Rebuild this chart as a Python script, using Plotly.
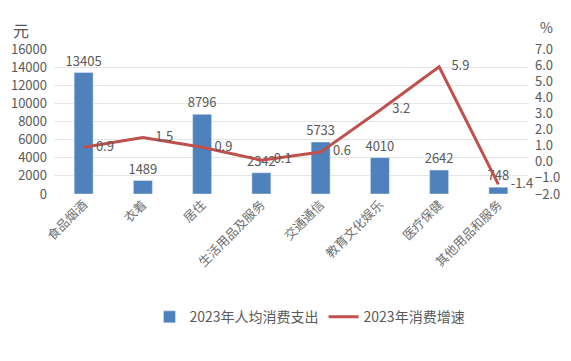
import plotly.graph_objects as go

categories = ["食品烟酒", "衣着", "居住", "生活用品及服务", "交通通信", "教育文化娱乐", "医疗保健", "其他用品和服务"]
spending = [13405, 1489, 8796, 2342, 5733, 4010, 2642, 748]
growth = [0.9, 1.5, 0.9, 0.1, 0.6, 3.2, 5.9, -1.4]
y_ticks = [0, 2000, 4000, 6000, 8000, 10000, 12000, 14000, 16000]
y2_ticks = [-2, -1, 0, 1, 2, 3, 4, 5, 6, 7]

FONT = "Noto Sans CJK SC"
GRAY = "#595959"

fig = go.Figure()
fig.add_trace(go.Bar(
    x=categories, y=spending, name="2023年人均消费支出",
    marker_color="#4F81BD",
    text=[str(v) for v in spending], textposition="outside",
    textfont=dict(size=13, color=GRAY, family=FONT),
    constraintext="none",
    cliponaxis=False,
))
fig.add_trace(go.Scatter(
    x=categories, y=growth, name="2023年消费增速", yaxis="y2",
    mode="lines+markers+text", line=dict(color="#C0504D", width=3),
    marker=dict(size=18, color="rgba(0,0,0,0)", line=dict(width=0)),
    text=[f"{v:.1f}" for v in growth], textposition="middle right",
    textfont=dict(size=13, color=GRAY, family=FONT),
    cliponaxis=False,
))

# page body has an 8px default margin, so the figure is sized/positioned to compensate
fig.update_layout(
    width=563, height=353,
    margin=dict(l=46, r=43, t=41, b=167, autoexpand=False),
    paper_bgcolor="white", plot_bgcolor="white",
    font=dict(family=FONT, color=GRAY, size=13),
    bargap=0.68,
    showlegend=True,
    legend=dict(orientation="h", x=0.54, xanchor="center", y=-0.85, yanchor="middle",
                font=dict(size=14, color=GRAY, family=FONT), itemwidth=30),
    xaxis=dict(range=[-0.5, len(categories) - 0.5], tickangle=-45,
               tickfont=dict(size=12.5, color="#707070"), showgrid=False,
               showline=False, ticks="", automargin=False),
    yaxis=dict(range=[0, 16000], tickvals=y_ticks, tickformat="d", showgrid=True,
               gridcolor="#E6E6E6", zeroline=False, tickfont=dict(size=13, color=GRAY),
               ticklabelstandoff=6, automargin=False),
    yaxis2=dict(range=[-2, 7], tickvals=y2_ticks, tickformat=".1f", overlaying="y", side="right",
                showgrid=False, zeroline=False, tickfont=dict(size=13, color=GRAY),
                ticklabelstandoff=6, automargin=False),
    annotations=[
        dict(text="元", xref="paper", yref="paper", x=-0.07, y=1.13, showarrow=False,
             font=dict(size=16, color=GRAY, family=FONT), xanchor="center", yanchor="middle"),
        dict(text="%", xref="paper", yref="paper", x=1.04, y=1.15, showarrow=False,
             font=dict(size=14, color=GRAY, family=FONT), xanchor="center", yanchor="middle"),
    ],
)

fig.write_html("out.html")
